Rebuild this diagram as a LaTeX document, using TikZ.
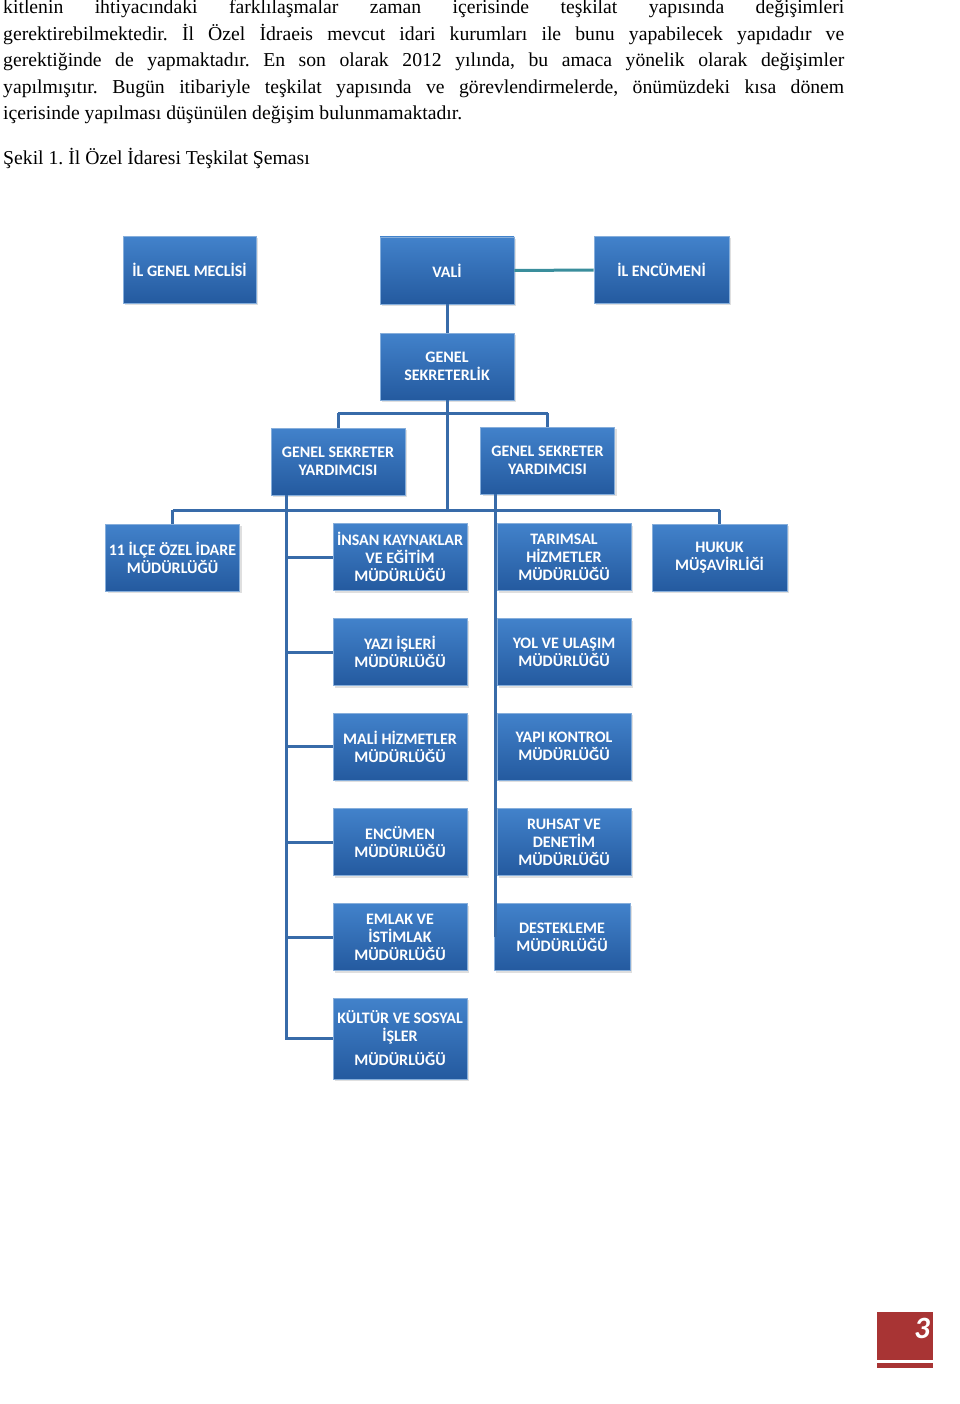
\documentclass[tikz,border=0pt]{standalone}
\usepackage{fontspec}
\setmainfont{Liberation Serif}
\newfontfamily\boxfont{Carlito}
\usetikzlibrary{shadows}
\frenchspacing
\definecolor{linkblue}{HTML}{386BA9}
\definecolor{linkteal}{HTML}{3A8E9C}
\definecolor{boxtop}{HTML}{4282CB}
\definecolor{boxbot}{HTML}{245A9F}
\definecolor{boxedge}{HTML}{86AEDB}
\definecolor{pagered}{HTML}{A83434}
\tikzset{
  orgbox/.style={rectangle, minimum width=134pt, minimum height=67pt, inner sep=1pt,
    top color=boxtop, bottom color=boxbot, draw=boxedge, line width=0.8pt,
    drop shadow={shadow xshift=2pt, shadow yshift=-2pt, opacity=0.25},
    text=white, align=center,
    font=\boxfont\bfseries\fontsize{16}{18}\selectfont},
  link/.style={draw=linkblue, line width=3pt},
  bodytext/.style={anchor=base west, inner sep=0pt, font=\fontsize{19.7}{23}\selectfont}
}
\begin{document}
\begin{tikzpicture}[x=1pt,y=-1pt]
\useasboundingbox (0,0) rectangle (960,1404);
% text
\node[bodytext] (t1) at (3,14) {\makebox[841pt][s]{kitlenin ihtiyacındaki farklılaşmalar zaman içerisinde teşkilat yapısında değişimleri}};
\node[bodytext] (t2) at (3,40.5) {\makebox[841pt][s]{gerektirebilmektedir. İl Özel İdraeis mevcut idari kurumları ile bunu yapabilecek yapıdadır ve}};
\node[bodytext] (t3) at (3,67) {\makebox[841pt][s]{gerektiğinde de yapmaktadır. En son olarak 2012 yılında, bu amaca yönelik olarak değişimler}};
\node[bodytext] (t4) at (3,93.5) {\makebox[841pt][s]{yapılmışıtır. Bugün itibariyle teşkilat yapısında ve görevlendirmelerde, önümüzdeki kısa dönem}};
\node[bodytext] (t5) at (3,120) {içerisinde yapılması düşünülen değişim bulunmamaktadır.};
\node[bodytext] (cap) at (3,165) {Şekil 1. İl Özel İdaresi Teşkilat Şeması};
% boxes
\node[orgbox, minimum width=133pt] (meclis) at (189.5,270) {İL GENEL MECLİSİ};
\node[orgbox] (vali) at (447,270.5) {VALİ};
\node[orgbox, minimum width=135pt] (encumen) at (661.5,270) {İL ENCÜMENİ};
\node[orgbox] (gs) at (447,366.5) {GENEL\\SEKRETERLİK};
\node[orgbox] (gsy1) at (338,461.5) {GENEL SEKRETER\\YARDIMCISI};
\node[orgbox] (gsy2) at (547.5,460.5) {GENEL SEKRETER\\YARDIMCISI};
\node[orgbox] (ilce) at (172.5,557.5) {11 İLÇE ÖZEL İDARE\\MÜDÜRLÜĞÜ};
\node[orgbox] (ik) at (400,557) {İNSAN KAYNAKLAR\\VE EĞİTİM\\MÜDÜRLÜĞÜ};
\node[orgbox] (tar) at (564,557) {TARIMSAL\\HİZMETLER\\MÜDÜRLÜĞÜ};
\node[orgbox, minimum width=135pt] (hukuk) at (719.5,557.5) {HUKUK\\MÜŞAVİRLİĞİ};
\node[orgbox] (yazi) at (400,652) {YAZI İŞLERİ\\MÜDÜRLÜĞÜ};
\node[orgbox] (yol) at (564,652) {YOL VE ULAŞIM\\MÜDÜRLÜĞÜ};
\node[orgbox] (mali) at (400,746.5) {MALİ HİZMETLER\\MÜDÜRLÜĞÜ};
\node[orgbox] (yapi) at (564,746.5) {YAPI KONTROL\\MÜDÜRLÜĞÜ};
\node[orgbox] (encm) at (400,842) {ENCÜMEN\\MÜDÜRLÜĞÜ};
\node[orgbox] (ruhsat) at (564,842) {RUHSAT VE\\DENETİM\\MÜDÜRLÜĞÜ};
\node[orgbox] (emlak) at (400,937) {EMLAK VE\\İSTİMLAK\\MÜDÜRLÜĞÜ};
\node[orgbox, minimum width=136pt] (destek) at (562,937) {DESTEKLEME\\MÜDÜRLÜĞÜ};
\node[orgbox, minimum height=81pt] (kultur) at (400,1038.5) {KÜLTÜR VE SOSYAL\\İŞLER\\[6pt]MÜDÜRLÜĞÜ};
% junction coordinates
\coordinate (gsbarL) at (338,413);
\coordinate (gsbarR) at (547.5,413);
\coordinate (midbar) at (447,510);
\coordinate (midL) at (172.5,510);
\coordinate (midR) at (719.5,510);
\coordinate (lvTop) at (286,495);
\coordinate (lvBot) at (286,1040);
\coordinate (rvTop) at (495,494);
\coordinate (rvBot) at (495,937);
% connectors
\draw[draw=linkteal, line width=3pt] (vali.east) -- (encumen.west);
\draw[link] (vali.south) -- (gs.north);
\draw[link] (gs.south) -- (midbar);
\draw[link] (gsbarL) -- (gsbarR);
\draw[link] (gsbarL) -- (gsy1.north);
\draw[link] (gsbarR) -- (gsy2.north);
\draw[link] (midL) -- (midR);
\draw[link] (midL) -- (ilce.north);
\draw[link] (midR) -- (hukuk.north);
\draw[link] (lvTop) -- (lvBot);
\foreach \b in {ik,yazi,mali,encm,emlak,kultur}{
  \draw[link] (\b.west -| lvTop) -- (\b.west);
}
\draw[link] (rvTop) -- (rvBot);
% page number
\node[rectangle, fill=pagered, minimum width=56pt, minimum height=48pt, inner sep=0pt] (pg) at (905,1336) {};
\node[rectangle, fill=pagered, minimum width=56pt, minimum height=5pt, inner sep=0pt] (pgbar) at (905,1365.5) {};
\node[text=white, font=\boxfont\bfseries\itshape\fontsize{31}{31}\selectfont, anchor=north east, inner sep=0pt] (pgnum) at (930,1318) {3};
\end{tikzpicture}
\end{document}
